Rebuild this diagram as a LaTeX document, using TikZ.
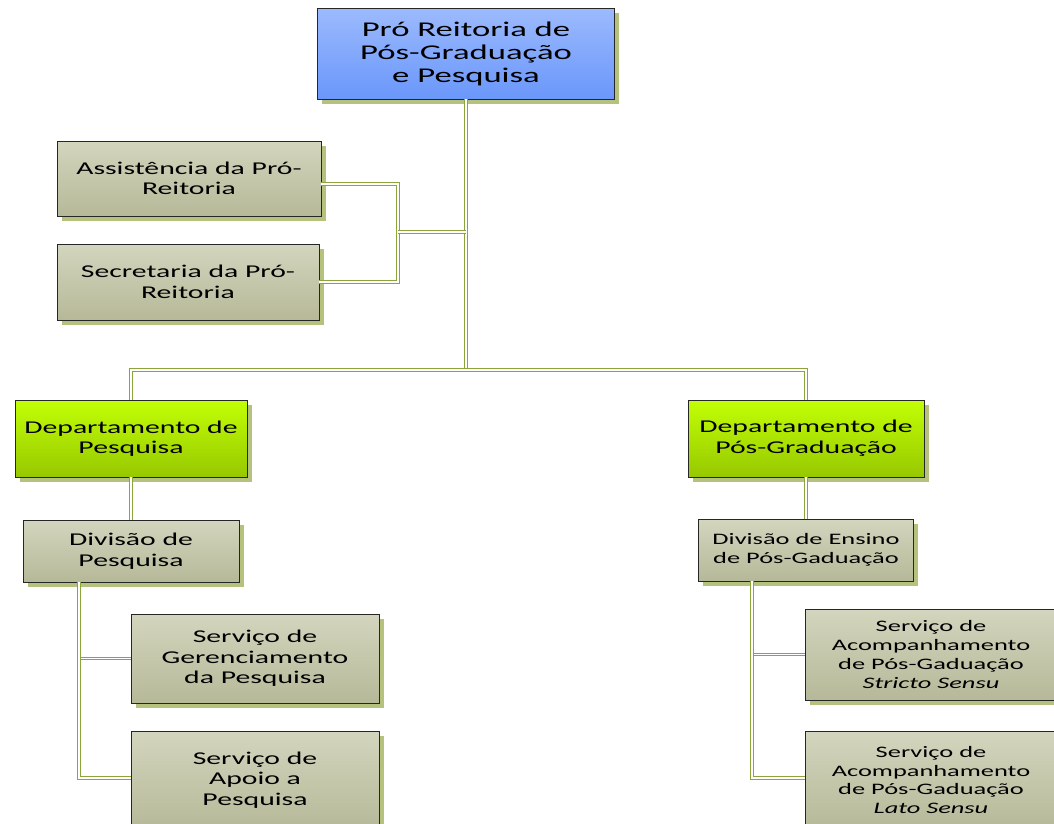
\documentclass[tikz,border=0pt]{standalone}
\usepackage{fontspec}
\setmainfont{Carlito}[FakeStretch=1.65]
\usetikzlibrary{shadows}

\definecolor{bluetop}{HTML}{9CBAFD}
\definecolor{bluebot}{HTML}{6A97FB}
\definecolor{graytop}{HTML}{D3D5BE}
\definecolor{graybot}{HTML}{B6B998}
\definecolor{greentop}{HTML}{C2FF05}
\definecolor{greenbot}{HTML}{97C800}
\definecolor{shadowgreen}{HTML}{B5C27E}
\definecolor{linkgreen}{HTML}{8AA63A}

\begin{document}
\begin{tikzpicture}[x=1pt, y=-1pt,
  box/.style={draw=black!85, line width=0.6pt, align=center, inner sep=2pt,
    general shadow={fill=shadowgreen, shadow xshift=4.5pt, shadow yshift=-4.5pt}},
  chief/.style={box, top color=bluetop, bottom color=bluebot,
    font=\fontsize{21}{23}\selectfont},
  staff/.style={box, top color=graytop, bottom color=graybot,
    font=\fontsize{18}{20.5}\selectfont},
  dept/.style={box, top color=greentop, bottom color=greenbot,
    font=\fontsize{18}{20.5}\selectfont},
  small/.style={font=\fontsize{16}{18.8}\selectfont},
  link/.style={draw=linkgreen, double=white, double distance=1.4pt, line width=1.1pt}]
  \useasboundingbox[fill=white] (0,0) rectangle (1054,823);
  \clip (0,0) rectangle (1054,823);

  \coordinate (hub) at (466,370);
  \coordinate (sjoin) at (398,232);

  \node[chief, minimum width=297pt, minimum height=91pt] (prppg) at (466,53.5)
    {Pró Reitoria de\\Pós-Graduação\\e Pesquisa};
  \node[staff, minimum width=264pt, minimum height=75pt] (assist) at (189,178.5)
    {Assistência da Pró-\\Reitoria};
  \node[staff, minimum width=262pt, minimum height=76pt] (secret) at (188,282)
    {Secretaria da Pró-\\Reitoria};

  \node[dept, minimum width=232pt, minimum height=77pt] (deppesq) at (131,438.5)
    {Departamento de\\Pesquisa};
  \node[dept, minimum width=236pt, minimum height=77pt] (deppos) at (806,438.5)
    {Departamento de\\Pós-Graduação};

  \node[staff, minimum width=216pt, minimum height=62pt] (divpesq) at (131,551)
    {Divisão de\\Pesquisa};
  \node[staff, small, minimum width=215pt, minimum height=62pt] (divens) at (806,550)
    {Divisão de Ensino\\de Pós-Gaduação};

  \node[staff, minimum width=248pt, minimum height=89pt] (servger) at (255,658.5)
    {Serviço de\\Gerenciamento\\da Pesquisa};
  \node[staff, minimum width=248pt, minimum height=98pt] (servapoio) at (255,780)
    {Serviço de\\Apoio a\\Pesquisa};
  \node[staff, small, minimum width=252pt, minimum height=91pt] (servstricto) at (931,654.5)
    {Serviço de\\Acompanhamento\\de Pós-Gaduação\\\textit{Stricto Sensu}};
  \node[staff, small, minimum width=252pt, minimum height=98pt] (servlato) at (931,780)
    {Serviço de\\Acompanhamento\\de Pós-Gaduação\\\textit{Lato Sensu}};

  \coordinate (ltrunk) at ([xshift=-52pt]divpesq.south);
  \coordinate (rtrunk) at ([xshift=-54pt]divens.south);

  \draw[link] (prppg.south) -- (hub);
  \draw[link] (deppesq.north) |- (hub) -| (deppos.north);
  \draw[link] ([yshift=-5.5pt]assist.east) -| (sjoin) |- (secret.east);
  \draw[link] (sjoin) -- (sjoin -| prppg.south);
  \draw[link] (deppesq.south) -- (divpesq.north);
  \draw[link] (deppos.south) -- (divens.north);
  \draw[link] (ltrunk) |- (servger.west);
  \draw[link] (ltrunk) |- ([yshift=2pt]servapoio.west);
  \draw[link] (rtrunk) |- (servstricto.west);
  \draw[link] (rtrunk) |- ([yshift=2pt]servlato.west);
\end{tikzpicture}
\end{document}
